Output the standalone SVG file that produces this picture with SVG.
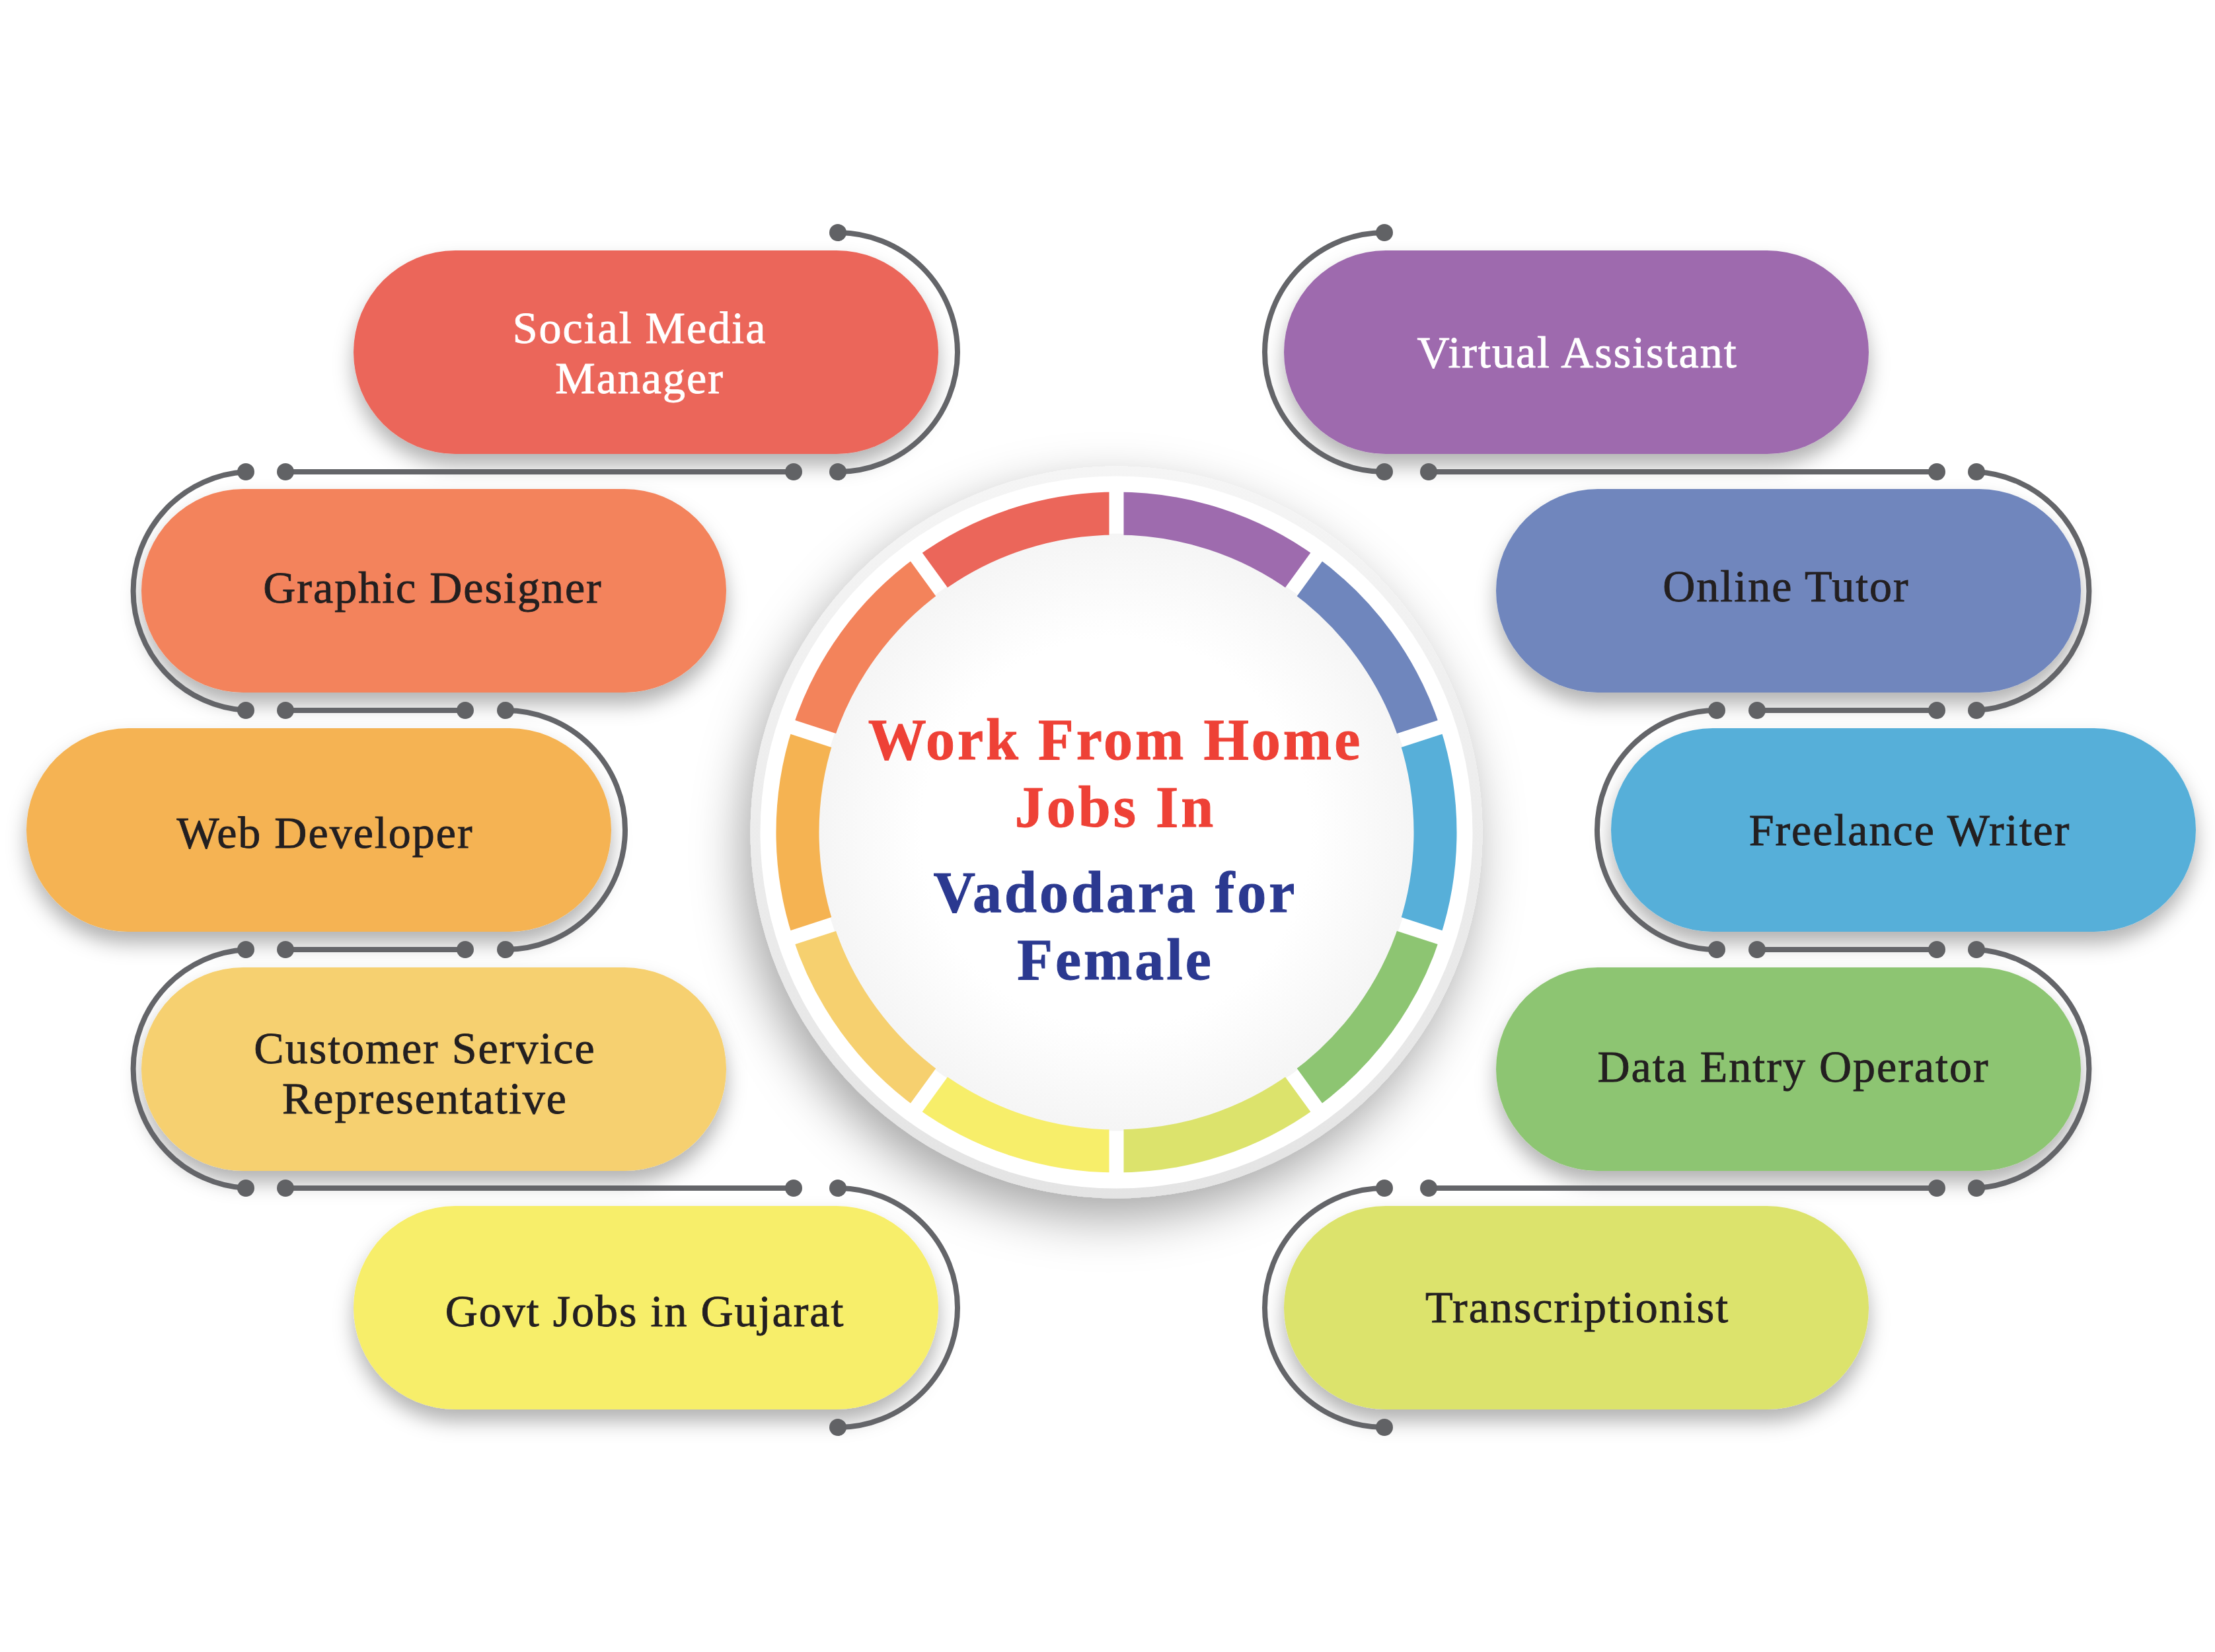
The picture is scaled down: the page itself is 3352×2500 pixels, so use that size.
<svg xmlns="http://www.w3.org/2000/svg" width="3352" height="2500" viewBox="0 0 3352 2500">
<style>
.lbl{font-family:"Liberation Serif","Times New Roman",serif;font-size:68px;letter-spacing:2px;text-anchor:middle;stroke-width:0.9px}
.dk{fill:#231f20;stroke:#231f20}
.wt{fill:#ffffff;stroke:#ffffff}
.ttl{font-family:"Liberation Serif","Times New Roman",serif;font-weight:bold;font-size:88px;letter-spacing:4px;text-anchor:middle;stroke-width:1px}
.conn path{fill:none;stroke:#646569;stroke-width:8}
.conn circle{fill:#616265}
.seg{fill:none;stroke-width:65}
</style>
<defs>
<filter id="pshadow" x="-20%" y="-30%" width="140%" height="170%">
<feDropShadow dx="0" dy="18" stdDeviation="15" flood-color="#000" flood-opacity="0.3"/>
</filter>
<filter id="cshadow" x="-30%" y="-30%" width="160%" height="160%">
<feDropShadow dx="-12" dy="30" stdDeviation="38" flood-color="#000" flood-opacity="0.35"/>
</filter>
<linearGradient id="rim" x1="0" y1="0" x2="0" y2="1">
<stop offset="0" stop-color="#f5f5f5"/>
<stop offset="1" stop-color="#e4e4e4"/>
</linearGradient>
<radialGradient id="inner" cx="0.5" cy="0.5" r="0.5">
<stop offset="0.65" stop-color="#ffffff"/>
<stop offset="1" stop-color="#f5f5f5"/>
</radialGradient>
<mask id="gaps" maskUnits="userSpaceOnUse" x="1000" y="600" width="1400" height="1400">
<rect x="1000" y="600" width="1400" height="1400" fill="#fff"/>
<g stroke="#000" stroke-width="22">
<line x1="1689.5" y1="1259.5" x2="1689.5" y2="659.5"/>
<line x1="1689.5" y1="1259.5" x2="2042.2" y2="774.1"/>
<line x1="1689.5" y1="1259.5" x2="2260.1" y2="1074.1"/>
<line x1="1689.5" y1="1259.5" x2="2260.1" y2="1444.9"/>
<line x1="1689.5" y1="1259.5" x2="2042.2" y2="1744.9"/>
<line x1="1689.5" y1="1259.5" x2="1689.5" y2="1859.5"/>
<line x1="1689.5" y1="1259.5" x2="1336.8" y2="1744.9"/>
<line x1="1689.5" y1="1259.5" x2="1118.9" y2="1444.9"/>
<line x1="1689.5" y1="1259.5" x2="1118.9" y2="1074.1"/>
<line x1="1689.5" y1="1259.5" x2="1336.8" y2="774.1"/>
</g>
</mask>
</defs>
<rect width="3352" height="2500" fill="#ffffff"/>

<g id="center">
<circle cx="1689.5" cy="1259.5" r="554" fill="url(#rim)" filter="url(#cshadow)"/>
<circle cx="1689.5" cy="1259.5" r="539" fill="#ffffff"/>
<circle cx="1689.5" cy="1259.5" r="452" fill="url(#inner)"/>
<g mask="url(#gaps)">
<path class="seg" stroke="#9e6bae" d="M1689.5,777 A482.5,482.5 0 0 1 1973.1,869.15"/>
<path class="seg" stroke="#6f86bd" d="M1973.1,869.15 A482.5,482.5 0 0 1 2148.4,1110.4"/>
<path class="seg" stroke="#57afd9" d="M2148.4,1110.4 A482.5,482.5 0 0 1 2148.4,1408.6"/>
<path class="seg" stroke="#8dc572" d="M2148.4,1408.6 A482.5,482.5 0 0 1 1973.1,1649.85"/>
<path class="seg" stroke="#dce36c" d="M1973.1,1649.85 A482.5,482.5 0 0 1 1689.5,1742"/>
<path class="seg" stroke="#f7ee6a" d="M1689.5,1742 A482.5,482.5 0 0 1 1405.9,1649.85"/>
<path class="seg" stroke="#f6d06f" d="M1405.9,1649.85 A482.5,482.5 0 0 1 1230.6,1408.6"/>
<path class="seg" stroke="#f5b352" d="M1230.6,1408.6 A482.5,482.5 0 0 1 1230.6,1110.4"/>
<path class="seg" stroke="#f3835b" d="M1230.6,1110.4 A482.5,482.5 0 0 1 1405.9,869.15"/>
<path class="seg" stroke="#eb665a" d="M1405.9,869.15 A482.5,482.5 0 0 1 1689.5,777"/>
</g>
<text class="ttl" fill="#ee4136" stroke="#ee4136" x="1688" y="1149">Work From Home</text>
<text class="ttl" fill="#ee4136" stroke="#ee4136" x="1688" y="1251">Jobs In</text>
<text class="ttl" fill="#2b3990" stroke="#2b3990" x="1688" y="1380">Vadodara for</text>
<text class="ttl" fill="#2b3990" stroke="#2b3990" x="1688" y="1482">Female</text>
</g>

<g id="node-social-media-manager">
<rect x="535" y="379" width="885" height="308" rx="154" fill="#eb665a" filter="url(#pshadow)"/>
<text class="lbl wt" x="968" y="519">Social Media</text>
<text class="lbl wt" x="968" y="595">Manager</text>
</g>
<g id="node-graphic-designer">
<rect x="214" y="740" width="885" height="308" rx="154" fill="#f3835b" filter="url(#pshadow)"/>
<text class="lbl dk" x="655" y="912">Graphic Designer</text>
</g>
<g id="node-web-developer">
<rect x="40" y="1102" width="885" height="308" rx="154" fill="#f5b352" filter="url(#pshadow)"/>
<text class="lbl dk" x="492" y="1283">Web Developer</text>
</g>
<g id="node-customer-service">
<rect x="214" y="1464" width="885" height="308" rx="154" fill="#f6d06f" filter="url(#pshadow)"/>
<text class="lbl dk" x="643" y="1609">Customer Service</text>
<text class="lbl dk" x="643" y="1685">Representative</text>
</g>
<g id="node-govt-jobs">
<rect x="535" y="1825" width="885" height="308" rx="154" fill="#f7ee6a" filter="url(#pshadow)"/>
<text class="lbl dk" x="976" y="2007">Govt Jobs in Gujarat</text>
</g>
<g id="node-virtual-assistant">
<rect x="1943" y="379" width="885" height="308" rx="154" fill="#9e6bae" filter="url(#pshadow)"/>
<text class="lbl wt" x="2387" y="556">Virtual Assistant</text>
</g>
<g id="node-online-tutor">
<rect x="2264" y="740" width="885" height="308" rx="154" fill="#6f86bd" filter="url(#pshadow)"/>
<text class="lbl dk" x="2703" y="910">Online Tutor</text>
</g>
<g id="node-freelance-writer">
<rect x="2438" y="1102" width="885" height="308" rx="154" fill="#57afd9" filter="url(#pshadow)"/>
<text class="lbl dk" x="2890" y="1279">Freelance Writer</text>
</g>
<g id="node-data-entry">
<rect x="2264" y="1464" width="885" height="308" rx="154" fill="#8dc572" filter="url(#pshadow)"/>
<text class="lbl dk" x="2714" y="1637">Data Entry Operator</text>
</g>
<g id="node-transcriptionist">
<rect x="1943" y="1825" width="885" height="308" rx="154" fill="#dce36c" filter="url(#pshadow)"/>
<text class="lbl dk" x="2387" y="2001">Transcriptionist</text>
</g>

<g id="connectors" class="conn">
<path d="M1268,352 A180.8,180.8 0 0 1 1268,714"/>
<path d="M432,714 H1201"/>
<path d="M372,714 A180.8,180.8 0 0 0 372,1075"/>
<path d="M432,1075 H704"/>
<path d="M765,1075 A180.8,180.8 0 0 1 765,1437"/>
<path d="M432,1437 H704"/>
<path d="M372,1437 A180.8,180.8 0 0 0 372,1798"/>
<path d="M432,1798 H1201"/>
<path d="M1268,1798 A180.8,180.8 0 0 1 1268,2160"/>
<circle cx="1268" cy="352" r="13"/>
<circle cx="1268" cy="714" r="13"/><circle cx="1201" cy="714" r="13"/><circle cx="432" cy="714" r="13"/><circle cx="372" cy="714" r="13"/>
<circle cx="372" cy="1075" r="13"/><circle cx="432" cy="1075" r="13"/><circle cx="704" cy="1075" r="13"/><circle cx="765" cy="1075" r="13"/>
<circle cx="372" cy="1437" r="13"/><circle cx="432" cy="1437" r="13"/><circle cx="704" cy="1437" r="13"/><circle cx="765" cy="1437" r="13"/>
<circle cx="372" cy="1798" r="13"/><circle cx="432" cy="1798" r="13"/><circle cx="1201" cy="1798" r="13"/><circle cx="1268" cy="1798" r="13"/>
<circle cx="1268" cy="2160" r="13"/>
<path d="M2095,352 A180.8,180.8 0 0 0 2095,714"/>
<path d="M2931,714 H2162"/>
<path d="M2991,714 A180.8,180.8 0 0 1 2991,1075"/>
<path d="M2931,1075 H2659"/>
<path d="M2598,1075 A180.8,180.8 0 0 0 2598,1437"/>
<path d="M2931,1437 H2659"/>
<path d="M2991,1437 A180.8,180.8 0 0 1 2991,1798"/>
<path d="M2931,1798 H2162"/>
<path d="M2095,1798 A180.8,180.8 0 0 0 2095,2160"/>
<circle cx="2095" cy="352" r="13"/>
<circle cx="2095" cy="714" r="13"/><circle cx="2162" cy="714" r="13"/><circle cx="2931" cy="714" r="13"/><circle cx="2991" cy="714" r="13"/>
<circle cx="2991" cy="1075" r="13"/><circle cx="2931" cy="1075" r="13"/><circle cx="2659" cy="1075" r="13"/><circle cx="2598" cy="1075" r="13"/>
<circle cx="2991" cy="1437" r="13"/><circle cx="2931" cy="1437" r="13"/><circle cx="2659" cy="1437" r="13"/><circle cx="2598" cy="1437" r="13"/>
<circle cx="2991" cy="1798" r="13"/><circle cx="2931" cy="1798" r="13"/><circle cx="2162" cy="1798" r="13"/><circle cx="2095" cy="1798" r="13"/>
<circle cx="2095" cy="2160" r="13"/>
</g>
</svg>
